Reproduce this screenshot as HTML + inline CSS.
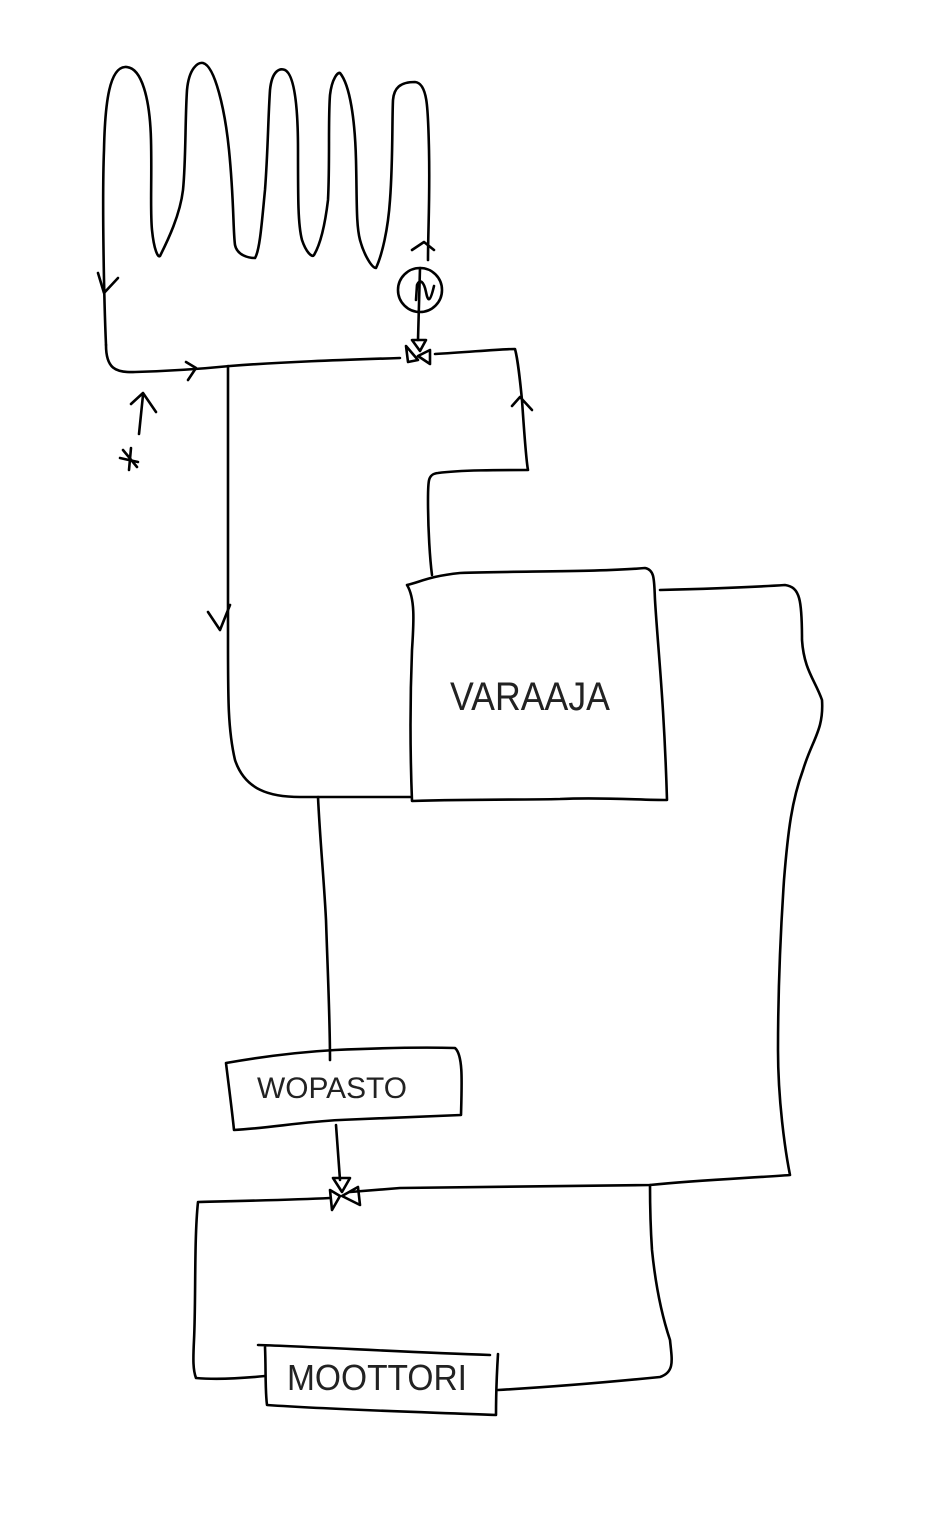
<!DOCTYPE html>
<html><head><meta charset="utf-8"><style>
html,body{margin:0;padding:0;background:#fff;}
svg{display:block;}
</style></head><body>
<svg width="925" height="1516" viewBox="0 0 925 1516" xmlns="http://www.w3.org/2000/svg">
<g fill="none" stroke="#000" stroke-width="2.6" stroke-linecap="round" stroke-linejoin="round">
<path d="M106,345 C104,300 102,200 104,150 C105,100 110,68 125,67 C142,66 150,100 151,140 C152,180 150,210 152,230 C154,250 158,258 160,256 C168,240 180,215 183,190 C186,160 185,120 187,90 C189,68 198,62 203,63 C215,66 225,110 229,150 C234,200 233,230 235,245 C237,255 248,258 255,258 C260,250 262,220 265,190 C268,150 268,120 270,90 C272,70 280,68 285,70 C295,75 298,110 298,150 C298,200 298,225 302,240 C306,252 312,258 314,255 C320,245 325,225 328,200 C330,160 328,120 330,95 C332,78 338,72 340,73 C350,85 355,120 356,160 C357,200 356,225 360,240 C364,255 372,268 376,268 C382,255 388,230 390,200 C393,160 392,120 393,100 C394,88 400,82 415,82 C428,83 428,110 429,150 C430,200 428,230 428,260"/>
<path d="M106,345 C106,368 115,373 135,372 C170,371 200,369 230,366 C280,362 340,360 400,358"/>
<path d="M435,354 C470,352 500,349 515,349 C518,360 520,380 522,400 C524,430 526,460 528,470 C500,470 460,470 438,473 C428,474 428,480 428,500 C428,530 430,560 432,575"/>
<path d="M98,273 L104,293 L118,278"/>
<path d="M186,362 L196,368 L188,380"/>
<path d="M512,406 L520,397 L532,410"/>
<path d="M412,250 L424,242 L434,250"/>
<path d="M208,612 L220,630 L230,605"/>
<path d="M131,404 L143,393 L156,412 M143,395 L139,434"/>
<path d="M120,458 L138,462 M123,450 L137,467 M131,448 L129,470"/>
<circle cx="420" cy="290" r="22"/>
<path d="M420,268 L418,340 M416,300 L417,285 C420,278 424,282 426,292 C428,302 430,303 434,286"/>
<path d="M406,346 L418,360 L408,362 Z M418,356 L430,350 L430,364 Z M412,340 L426,340 L420,351 Z"/>
<path d="M228,366 L228,640 C228,700 228,730 235,760 C245,790 270,797 300,797 L410,797"/>
<path d="M407,585 C420,582 430,576 460,573 C520,571 600,572 645,568 C655,570 654,580 655,600 C658,650 664,700 667,800 C640,800 600,797 560,799 C520,800 480,799 412,801 C410,750 410,700 412,650 C414,620 415,598 407,585 Z"/>
<path d="M660,590 C700,589 740,588 785,585 C800,587 802,600 802,640 C804,670 815,680 822,700 C824,730 812,740 803,770 C792,800 788,830 784,880 C780,940 778,1000 778,1050 C778,1100 785,1150 790,1175 C750,1178 700,1180 650,1185 C560,1186 470,1187 400,1188 L350,1192"/>
<path d="M318,797 C320,840 324,880 326,920 C328,980 330,1020 330,1060"/>
<path d="M226,1063 C260,1057 300,1052 335,1050 C380,1048 420,1047 455,1048 C463,1055 462,1080 461,1115 C420,1117 380,1118 340,1120 C300,1122 270,1128 234,1130 C232,1110 228,1080 226,1063 Z"/>
<path d="M336,1125 L340,1180"/>
<path d="M333,1178 L350,1178 L342,1192 Z M330,1190 L340,1196 L332,1210 Z M342,1196 L358,1187 L360,1205 Z"/>
<path d="M330,1198 C290,1200 240,1201 198,1202 C194,1240 196,1300 194,1340 C193,1360 193,1370 196,1378 C220,1380 245,1378 265,1376"/>
<path d="M258,1345 C320,1347 400,1352 490,1355 M265,1347 C266,1370 265,1390 267,1405 C340,1410 420,1412 496,1415 C496,1395 497,1370 498,1354"/>
<path d="M498,1390 C550,1387 600,1383 660,1377 C675,1372 672,1360 670,1340 C660,1310 655,1280 652,1250 C650,1220 650,1200 650,1185"/>
</g>
<g font-family="Liberation Sans, sans-serif" fill="#222">
<text x="450" y="710" font-size="40" textLength="160" lengthAdjust="spacingAndGlyphs">VARAAJA</text>
<text x="257" y="1098" font-size="30" textLength="150" lengthAdjust="spacingAndGlyphs">WOPASTO</text>
<text x="287" y="1390" font-size="36" textLength="180" lengthAdjust="spacingAndGlyphs">MOOTTORI</text>
</g>
</svg>
</body></html>
